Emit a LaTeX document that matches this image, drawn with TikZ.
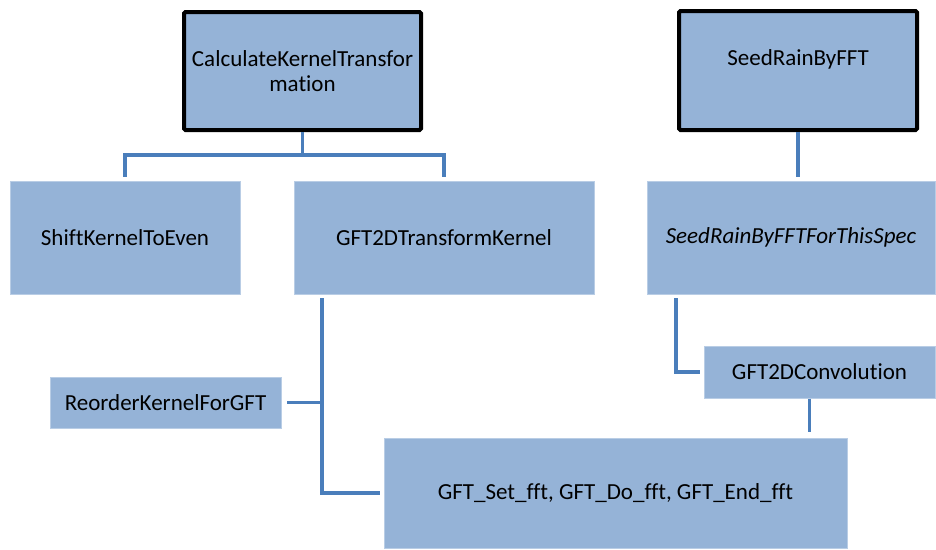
\documentclass[tikz,border=0pt]{standalone}
\usepackage{fontspec}
\setmainfont[Ligatures=NoCommon]{Carlito}
\usepackage{tikz}
\usepackage{xcolor}
\usetikzlibrary{calc, positioning}

\definecolor{boxfill}{RGB}{149,179,215}
\definecolor{boxedge}{RGB}{185,205,229}
\definecolor{wirecol}{RGB}{74,126,187}

\begin{document}
\begin{tikzpicture}[x=1pt, y=1pt,
                        box/.style={draw=boxedge, line width=1pt, fill=boxfill, align=center, inner sep=0pt,
                                    font=\fontsize{23}{25}\selectfont},
                        root/.style={box, draw=black, line width=4pt, rounded corners=1.5pt},
                        wire/.style={draw=wirecol, line width=3.2pt}]
                        \useasboundingbox (0, 0) rectangle (936, -549);

                        \node[root, minimum width=237, minimum height=118] (calc) at (302.5, -71) {CalculateKernelTransfor \\ mation};
                        \node[root, minimum width=238, minimum height=119] (seed) at (798, -70.5) {SeedRainByFFT \\ \mbox{}};
                        \node[box, minimum width=230, minimum height=113] (shift) at (125, -237.5) {ShiftKernelToEven};
                        \node[box, minimum width=300, minimum height=113] (gftkern) at (444, -237.5) {GFT2DTransformKernel};
                        \node[box, minimum width=288, minimum height=113] (spec) at (791, -237.5) {\itshape SeedRainByFFTForThisSpec};
                        \node[box, minimum width=231, minimum height=51] (reorder) at (165.5, -402.5) {ReorderKernelForGFT};
                        \node[box, minimum width=231, minimum height=52] (conv) at (819.5, -372) {GFT2DConvolution};
                        \node[box, minimum width=463, minimum height=110] (fftcalls) at (615.5, -493) {GFT\_Set\_fft, GFT\_Do\_fft, GFT\_End\_fft};

                        \coordinate (calcbus) at ($(calc.south) + (0, -23)$);
                        \coordinate (kernbus) at (322, -298);
                        \coordinate (specbus) at (676, -298);
                        \coordinate (convtap) at ($(conv.south) + (-10, 0)$);

                        \draw[wire]
                        (calc.south) -- (calcbus)
                        (calcbus) -| ([yshift=4]shift.north)
                        (calcbus) -| ([yshift=4]gftkern.north)
                        (seed.south) -- ([yshift=4]seed.south |- spec.north)
                        (kernbus) |- ([xshift=-4]fftcalls.west)
                        (kernbus |- reorder.east) -- ([xshift=5]reorder.east)
                        (specbus) |- ([xshift=-4]conv.west)
                        (convtap) -- ([yshift=6]convtap |- fftcalls.north);
                    \end{tikzpicture}
\end{document}
